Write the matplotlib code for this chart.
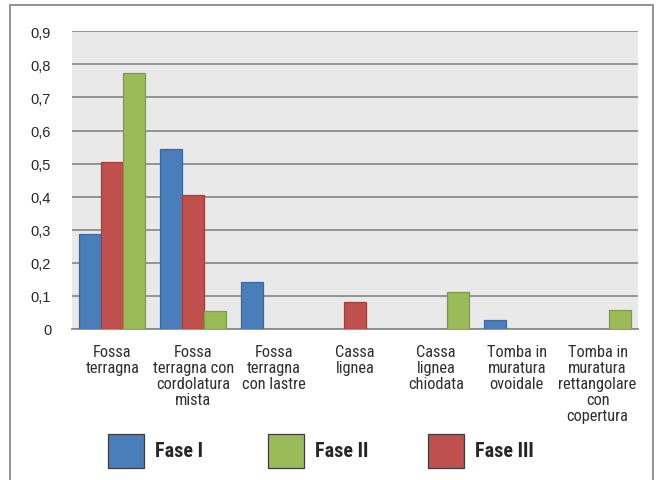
import matplotlib
matplotlib.use("Agg")
import matplotlib.pyplot as plt
from matplotlib.patches import Rectangle
import numpy as np

# categorie di sepoltura e frequenze per fase
categorie = [
    "Fossa\nterragna",
    "Fossa\nterragna con\ncordolatura\nmista",
    "Fossa\nterragna\ncon lastre",
    "Cassa\nlignea",
    "Cassa\nlignea\nchiodata",
    "Tomba in\nmuratura\novoidale",
    "Tomba in\nmuratura\nrettangolare\ncon\ncopertura",
]
fase_1 = [0.286, 0.543, 0.143, 0.0, 0.0, 0.027, 0.0]
fase_2 = [0.775, 0.055, 0.0, 0.0, 0.111, 0.0, 0.056]
fase_3 = [0.505, 0.406, 0.0, 0.083, 0.0, 0.0, 0.0]
y_ticks = [0, 0.1, 0.2, 0.3, 0.4, 0.5, 0.6, 0.7, 0.8, 0.9]

# (nome, valori, colore, bordo) nell'ordine delle barre
serie = [
    ("Fase I", fase_1, "#4a7ebb", "#3a689f"),
    ("Fase III", fase_3, "#c0504d", "#9e3e3b"),
    ("Fase II", fase_2, "#9bbb59", "#7d9a45"),
]
legenda = ["Fase I", "Fase II", "Fase III"]

narrow = ["Liberation Sans Narrow", "Roboto Condensed", "Liberation Sans", "DejaVu Sans"]
plt.rcParams["font.family"] = ["Liberation Sans", "DejaVu Sans"]

W, H = 657, 481
fig = plt.figure(figsize=(W / 100, H / 100), dpi=100)

# cornice esterna
fig.add_artist(Rectangle((10 / W, -0.05), 643 / W, 0.05 + (H - 6) / H,
                         transform=fig.transFigure, fill=False,
                         edgecolor="#7f7f7f", linewidth=1.2))

ax = fig.add_axes([72 / W, 151 / H, 566 / W, 297.7 / H])
ax.set_facecolor("#e9e9e9")

x = np.arange(len(categorie))
w = 0.272
for i, (nome, vals, col, bordo) in enumerate(serie):
    barre = ax.bar(x + (i - 1) * w, vals, width=w, color=col, edgecolor=bordo,
                   linewidth=0.9, label=nome, zorder=3)
    for b in barre:
        if b.get_height() == 0:
            b.set_visible(False)

ax.set_xlim(-0.5, len(categorie) - 0.5)
ax.set_ylim(0, 0.9)
ax.set_yticks(y_ticks)
ax.set_yticklabels([f"{v:g}".replace(".", ",") for v in y_ticks],
                   fontsize=10.5, color="#262626")
ax.set_xticks(x)
ax.set_xticklabels(categorie, fontsize=11.8, color="#303030", family=narrow,
                   linespacing=1.08, va="top")
ax.tick_params(axis="both", length=0)
ax.tick_params(axis="y", pad=15)
ax.tick_params(axis="x", pad=11)

ax.yaxis.grid(True, color="#8c8c8c", linewidth=1.3, zorder=0)
ax.set_axisbelow(True)
for s in ["left", "right", "top"]:
    ax.spines[s].set_visible(False)
ax.spines["bottom"].set_color("#8c8c8c")
ax.spines["bottom"].set_linewidth(1.3)

# legenda a caselle quadrate
colori = {nome: col for nome, _, col, _ in serie}
for i, nome in enumerate(legenda):
    x0 = 108 + i * 160
    fig.add_artist(Rectangle((x0 / W, (H - 469) / H), 36 / W, 34 / H,
                             transform=fig.transFigure, facecolor=colori[nome],
                             edgecolor="#3c3c3c", linewidth=0.9))
    fig.text((x0 + 47) / W, (H - 452) / H, nome, fontsize=14.5,
             fontweight="bold", family=narrow, color="#262626",
             ha="left", va="center")

fig.savefig("out.png", dpi=100)
